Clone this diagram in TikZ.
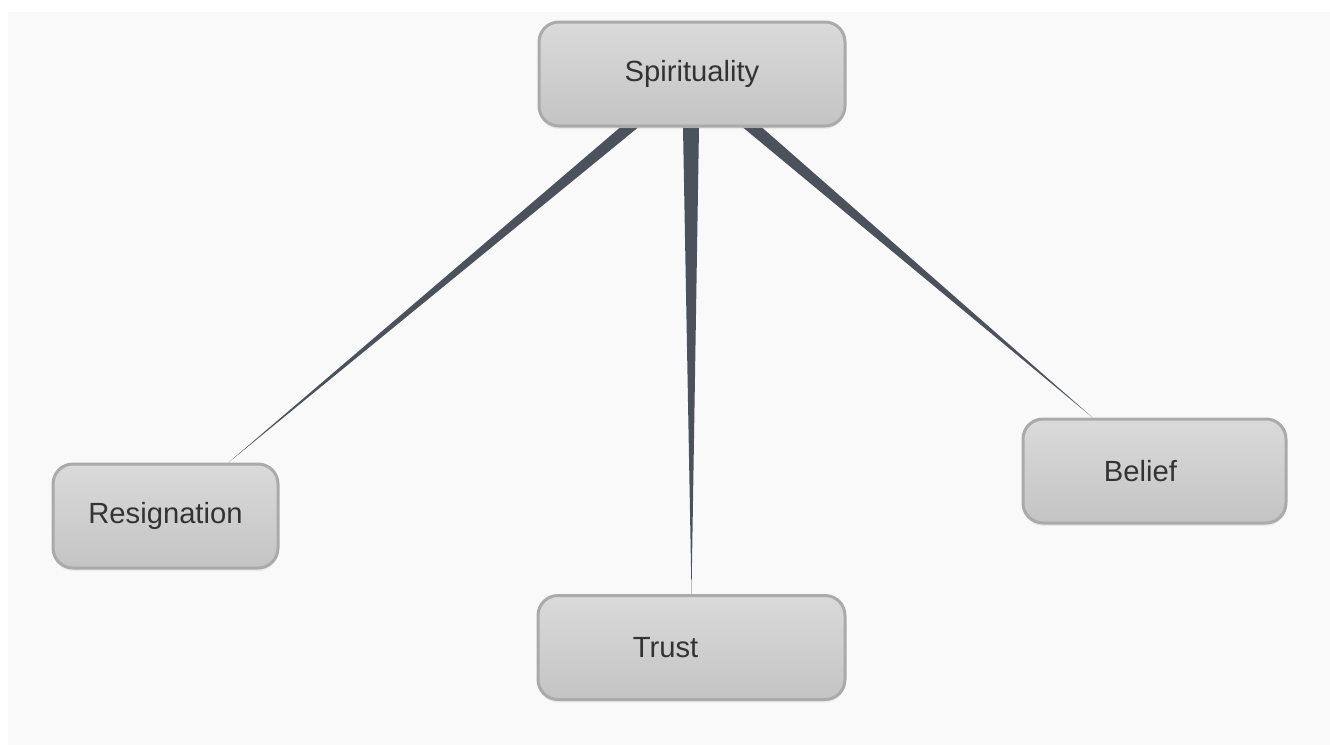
\documentclass[tikz,border=0pt]{standalone}
\usepackage{fontspec}
\setmainfont{Liberation Sans}
\usepackage{xcolor}
\definecolor{Canvas}{HTML}{F9F9F9}
\definecolor{BoxTop}{HTML}{DADADA}
\definecolor{BoxBot}{HTML}{C4C4C4}
\definecolor{BoxRim}{HTML}{AAAAAA}
\definecolor{Ink}{HTML}{333333}
\definecolor{Wedge}{HTML}{4B525C}
\usetikzlibrary{positioning,calc,shadows,backgrounds}
\tikzset{
  concept/.style={draw=BoxRim,line width=1.5pt,rounded corners=10pt,
    top color=BoxTop,bottom color=BoxBot,text=Ink,
    minimum height=52pt,font=\fontsize{14.6}{17}\selectfont,
    drop shadow={opacity=0.12,shadow xshift=0pt,shadow yshift=-1.5pt}},
  link/.style={fill=Wedge,draw=none}
}

\begin{document}
\begin{tikzpicture}[x=0.5pt,y=-0.5pt]
  \useasboundingbox (0,0) rectangle (1330,745);
  \node[concept, minimum width=153pt] (spirit) at (692,74) {Spirituality};
  \node[concept, minimum width=112.5pt] (resig) at (165.5,516) {Resignation};
  \node[concept, minimum width=153.5pt] (trust) at (691.5,647.5) {Trust\hspace*{26pt}};
  \node[concept, minimum width=131.5pt] (belief) at (1154.5,471) {Belief\hspace*{14pt}};
  \begin{scope}[on background layer]
    \fill[Canvas] (8,12) rectangle (1330,745);
    % tapered links, wide at the top node
    \fill[link] ([xshift=-36pt]spirit.south) -- ([xshift=-27pt]spirit.south)
      -- ([xshift=31.5pt]resig.north) -- cycle;
    \fill[link] ([xshift=-4.5pt]spirit.south) -- ([xshift=3.5pt]spirit.south)
      -- (trust.north) -- cycle;
    \fill[link] ([xshift=25.5pt]spirit.south) -- ([xshift=35pt]spirit.south)
      -- ([xshift=-31pt]belief.north) -- cycle;
  \end{scope}
\end{tikzpicture}
\end{document}
